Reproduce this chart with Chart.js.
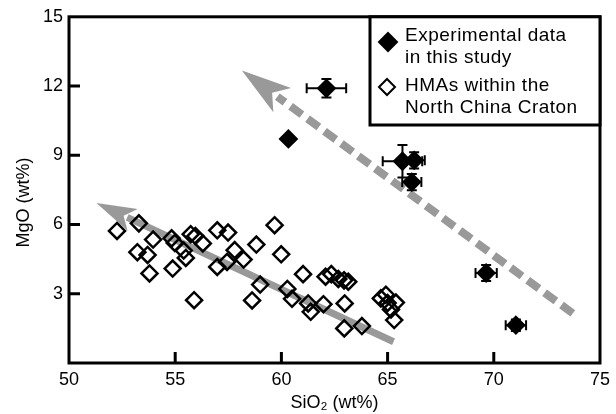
<!DOCTYPE html>
<html>
<head>
<meta charset="utf-8">
<script src="https://cdn.jsdelivr.net/npm/chart.js@4.4.1/dist/chart.umd.min.js"></script>
<style>
  body { margin: 0; background: #fff; }
  canvas { display: block; }
</style>
</head>
<body>
<canvas id="mgoChart" width="616" height="414"></canvas>
<script>
// axis ticks
const xTicks = [50, 55, 60, 65, 70, 75];
const yTicks = [3, 6, 9, 12, 15];

// HMAs within the North China Craton (open diamonds)
const hmaSiO2 = [52.26, 53.29, 53.22, 53.70, 53.96, 53.79, 54.83, 54.98, 54.88, 55.40,
  55.50, 55.73, 55.95, 56.30, 55.89, 56.98, 57.49, 56.98, 57.44, 57.80,
  58.22, 58.82, 59.68, 59.99, 58.62, 59.00, 60.28, 60.50, 61.02, 61.26,
  61.38, 61.98, 62.08, 62.35, 62.68, 62.95, 63.15, 62.98, 62.96, 63.79,
  64.68, 64.92, 65.00, 65.39, 65.16, 65.31];
const hmaMgO = [5.72, 6.05, 4.80, 4.68, 5.35, 3.88, 5.40, 5.20, 4.09, 4.87,
  4.55, 5.58, 5.50, 5.18, 2.72, 5.75, 5.65, 4.16, 4.38, 4.89,
  4.48, 5.13, 5.97, 4.71, 2.71, 3.40, 3.21, 2.78, 3.85, 2.58,
  2.22, 2.55, 3.74, 3.85, 3.64, 3.58, 3.52, 2.58, 1.50, 1.60,
  2.80, 2.96, 2.60, 2.62, 2.32, 1.86];

// experimental data in this study (filled diamonds + error bars)
const expSiO2 = [62.12, 60.33, 65.70, 66.25, 66.14, 69.64, 71.04];
const expMgO = [11.90, 9.71, 8.74, 8.78, 7.84, 3.90, 1.64];
const expSiO2Err = [0.93, 0, 0.93, 0.5, 0.45, 0.5, 0.48];
const expMgOErr = [0.4, 0, 0.7, 0.35, 0.35, 0.35, 0.25];

// trend arrows, tail -> tip
const dashArrowX = [73.72, 58.14];
const dashArrowY = [2.15, 12.67];
const solidArrowX = [65.28, 51.29];
const solidArrowY = [0.92, 6.93];

const FONT = "'Liberation Sans', Arial, sans-serif";

function drawArrow(ctx, sx, sy, ax, ay, dashed) {
  const x0 = sx.getPixelForValue(ax[0]), y0 = sy.getPixelForValue(ay[0]);
  const x1 = sx.getPixelForValue(ax[1]), y1 = sy.getPixelForValue(ay[1]);
  const len = Math.hypot(x1 - x0, y1 - y0);
  const ux = (x1 - x0) / len, uy = (y1 - y0) / len;
  const headLen = dashed ? 50 : 40;
  const headW = dashed ? 15 : 12;
  const bx = x1 - ux * headLen, by = y1 - uy * headLen;

  ctx.save();
  ctx.strokeStyle = '#999';
  ctx.fillStyle = '#999';
  ctx.lineWidth = dashed ? 8 : 7;
  if (dashed) ctx.setLineDash([14, 7]);
  ctx.beginPath();
  ctx.moveTo(x0, y0);
  ctx.lineTo(bx + ux * 6, by + uy * 6);
  ctx.stroke();
  ctx.setLineDash([]);

  ctx.beginPath();
  ctx.moveTo(x1, y1);
  ctx.lineTo(bx - uy * headW, by + ux * headW);
  ctx.lineTo(bx + ux * headLen * 0.25, by + uy * headLen * 0.25);
  ctx.lineTo(bx + uy * headW, by - ux * headW);
  ctx.closePath();
  ctx.fill();
  ctx.restore();
}

const arrowPlugin = {
  id: 'arrows',
  beforeDatasetsDraw(chart) {
    const { ctx, scales } = chart;
    drawArrow(ctx, scales.x, scales.y, dashArrowX, dashArrowY, true);
    drawArrow(ctx, scales.x, scales.y, solidArrowX, solidArrowY, false);
  }
};

const errorBarPlugin = {
  id: 'errorBars',
  afterDatasetsDraw(chart) {
    const { ctx, scales } = chart;
    const cap = 5;
    ctx.save();
    ctx.strokeStyle = '#000';
    ctx.lineWidth = 2;
    expSiO2.forEach((sx, i) => {
      const px = scales.x.getPixelForValue(sx);
      const py = scales.y.getPixelForValue(expMgO[i]);
      if (expSiO2Err[i] > 0) {
        const l = scales.x.getPixelForValue(sx - expSiO2Err[i]);
        const r = scales.x.getPixelForValue(sx + expSiO2Err[i]);
        ctx.beginPath();
        ctx.moveTo(l, py); ctx.lineTo(r, py);
        ctx.moveTo(l, py - cap); ctx.lineTo(l, py + cap);
        ctx.moveTo(r, py - cap); ctx.lineTo(r, py + cap);
        ctx.stroke();
      }
      if (expMgOErr[i] > 0) {
        const t = scales.y.getPixelForValue(expMgO[i] + expMgOErr[i]);
        const b = scales.y.getPixelForValue(expMgO[i] - expMgOErr[i]);
        ctx.beginPath();
        ctx.moveTo(px, t); ctx.lineTo(px, b);
        ctx.moveTo(px - cap, t); ctx.lineTo(px + cap, t);
        ctx.moveTo(px - cap, b); ctx.lineTo(px + cap, b);
        ctx.stroke();
      }
    });
    ctx.restore();
  }
};

function diamond(ctx, x, y, r, filled) {
  ctx.beginPath();
  ctx.moveTo(x, y - r); ctx.lineTo(x + r, y);
  ctx.lineTo(x, y + r); ctx.lineTo(x - r, y);
  ctx.closePath();
  if (filled) { ctx.fill(); }
  ctx.stroke();
}

const framePlugin = {
  id: 'frame',
  afterDraw(chart) {
    const { ctx, chartArea: a, scales } = chart;
    ctx.save();
    ctx.strokeStyle = '#000';
    ctx.lineWidth = 3;
    // inward ticks
    ctx.beginPath();
    xTicks.slice(1, -1).forEach(v => {
      const px = scales.x.getPixelForValue(v);
      ctx.moveTo(px, a.bottom); ctx.lineTo(px, a.bottom - 11);
    });
    yTicks.slice(0, -1).forEach(v => {
      const py = scales.y.getPixelForValue(v);
      ctx.moveTo(a.left, py); ctx.lineTo(a.left + 11, py);
    });
    ctx.stroke();
    ctx.strokeRect(a.left, a.top, a.right - a.left, a.bottom - a.top);

    // legend box
    const lx = 370, ly = a.top, lr = a.right, lb = 125;
    ctx.fillStyle = '#fff';
    ctx.fillRect(lx, ly, lr - lx, lb - ly);
    ctx.strokeRect(lx, ly, lr - lx, lb - ly);

    ctx.fillStyle = '#000';
    ctx.lineWidth = 2;
    diamond(ctx, 388, 42, 9, true);
    diamond(ctx, 387, 87, 8, false);

    ctx.font = '19px ' + FONT;
    ctx.letterSpacing = '0.5px';
    ctx.textBaseline = 'middle';
    ctx.textAlign = 'left';
    ctx.fillText('Experimental data', 405, 36);
    ctx.fillText('in this study', 405, 58);
    ctx.fillText('HMAs within the', 405, 86);
    ctx.fillText('North China Craton', 405, 108);
    ctx.restore();
  }
};

const ctx = document.getElementById('mgoChart').getContext('2d');

new Chart(ctx, {
  type: 'scatter',
  data: {
    datasets: [
      {
        label: 'HMAs within the North China Craton',
        data: hmaSiO2.map((x, i) => ({ x: x, y: hmaMgO[i] })),
        pointStyle: 'rectRot',
        pointRadius: 8,
        borderWidth: 2.5,
        borderColor: '#000',
        backgroundColor: 'rgba(0,0,0,0)'
      },
      {
        label: 'Experimental data in this study',
        data: expSiO2.map((x, i) => ({ x: x, y: expMgO[i] })),
        pointStyle: 'rectRot',
        pointRadius: 8.5,
        borderWidth: 2,
        borderColor: '#000',
        backgroundColor: '#000'
      }
    ]
  },
  options: {
    responsive: false,
    animation: false,
    layout: { padding: { top: 16, right: 12, left: 0, bottom: 0 } },
    plugins: {
      legend: { display: false },
      tooltip: { enabled: false }
    },
    scales: {
      x: {
        type: 'linear',
        min: 50,
        max: 75,
        afterBuildTicks: s => { s.ticks = xTicks.map(v => ({ value: v })); },
        afterFit: s => { s.height = 51; },
        grid: { display: false, drawTicks: false },
        border: { display: false },
        ticks: { padding: 6, color: '#000', font: { size: 18, family: FONT } },
        title: {
          display: true,
          text: 'SiO₂ (wt%)',
          color: '#000',
          font: { size: 18, family: FONT },
          padding: { top: 0, bottom: 0 }
        }
      },
      y: {
        type: 'linear',
        min: 0,
        max: 15,
        afterBuildTicks: s => { s.ticks = yTicks.map(v => ({ value: v })); },
        afterFit: s => { s.width = 69; },
        grid: { display: false, drawTicks: false },
        border: { display: false },
        ticks: { padding: 6, color: '#000', font: { size: 18, family: FONT } },
        title: {
          display: true,
          text: 'MgO (wt%)\u00a0\u00a0\u00a0\u00a0\u00a0',
          color: '#000',
          font: { size: 18, family: FONT },
          padding: { top: 13, bottom: 0 }
        }
      }
    }
  },
  plugins: [arrowPlugin, errorBarPlugin, framePlugin]
});
</script>
</body>
</html>
